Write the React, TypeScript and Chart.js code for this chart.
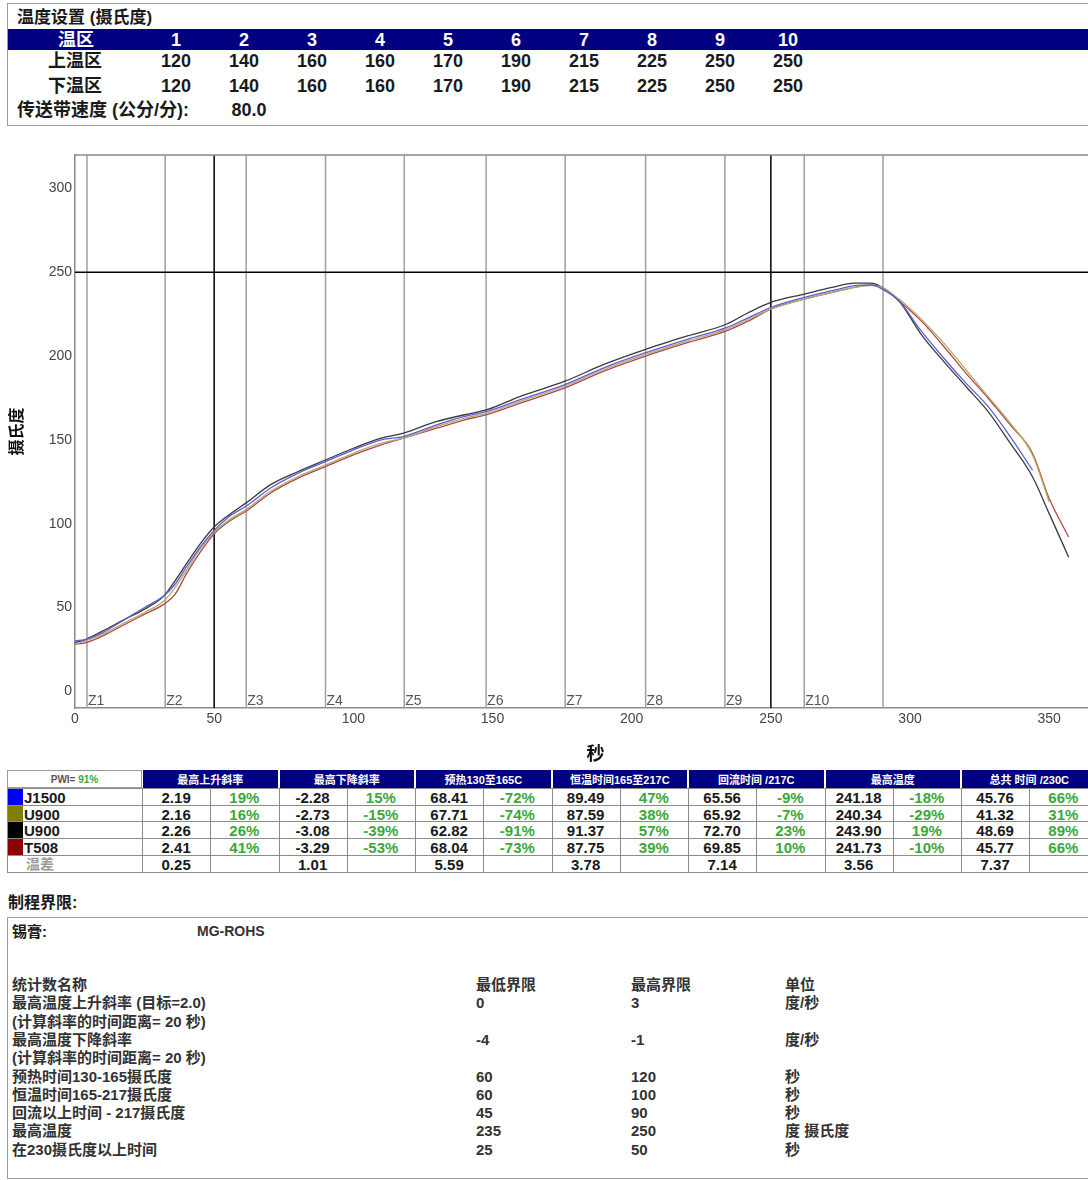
import React, { useEffect, useRef } from 'react';
import { Chart, registerables } from 'chart.js';

Chart.register(...registerables);

const FONT = "'Liberation Sans', Arial, 'Noto Sans CJK SC', sans-serif";

// ---- Zone settings ----
const zoneNumbers = ['1', '2', '3', '4', '5', '6', '7', '8', '9', '10'];
const upperZoneTemps = [120, 140, 160, 160, 170, 190, 215, 225, 250, 250];
const lowerZoneTemps = [120, 140, 160, 160, 170, 190, 215, 225, 250, 250];
const conveyorSpeed = '80.0';

// ---- Profile curves (seconds / °C) ----
const timeSec = [0, 4, 10, 18, 25, 32, 36, 40, 45, 50, 56, 62, 70, 80, 90, 100, 110, 118, 130, 140, 148, 160, 176, 190, 205, 220, 234, 242, 250, 262, 272, 280, 286, 290, 296, 304, 312, 320, 328, 336, 344, 350, 357];
const j1500Temps = [30, 31, 35, 43, 50, 57, 64, 74, 86, 96, 105, 111, 121, 130, 137, 144, 150, 152, 159, 164, 167, 174, 183, 193, 202, 210, 217, 223, 229, 235, 239, 242, 242.5, 240, 233, 215, 199, 184, 170, 152, 132];
const u900OliveTemps = [28, 30, 34, 41, 47, 54, 62, 72, 85, 95, 103, 109, 119, 128, 135, 142, 148, 151, 158, 163, 166, 173, 182, 192, 201, 209, 216, 222, 228, 234, 238, 241, 242, 241, 234, 222, 208, 192, 176, 160, 141, 113];
const u900BlackTemps = [29, 31, 36, 43, 49, 57, 66, 76, 88, 98, 106, 113, 123, 131, 138, 145, 151, 154, 161, 165, 168, 176, 185, 195, 204, 212, 219, 226, 232, 237, 241, 243.5, 243.5, 241, 233, 213, 197, 182, 167, 148, 128, 106, 80];
const t508Temps = [28, 29, 33, 40, 46, 52, 58, 70, 83, 94, 102, 108, 118, 127, 134, 141, 147, 151, 157, 162, 165, 172, 181, 191, 200, 208, 215, 221, 228, 234, 238, 241, 242.5, 241, 233, 221, 206, 190, 175, 159, 142, 115, 92];

const zoneBoundarySec = [4.3, 32.4, 61.5, 90, 118.3, 147.7, 176.1, 205, 233.5, 262, 290.3];
const zoneLabels = ['Z1', 'Z2', 'Z3', 'Z4', 'Z5', 'Z6', 'Z7', 'Z8', 'Z9', 'Z10'];
const markerSec = [50, 250];
const markerTemp = [250];
const xTickValues = [0, 50, 100, 150, 200, 250, 300, 350];
const yTickValues = [0, 50, 100, 150, 200, 250, 300];

// ---- Statistics table ----
const probeNames = ['J1500', 'U900', 'U900', 'T508'];
const probeColors = ['#0000ff', '#808000', '#000000', '#8b0000'];
const lineColors = ['#5c5cdc', '#b3ab68', '#3a3a3a', '#ad4848'];
const statHeaders = ['最高上升斜率', '最高下降斜率', '预热130至165C', '恒温时间165至217C', '回流时间 /217C', '最高温度', '总共 时间 /230C'];
const statValues = [
  ['2.19', '-2.28', '68.41', '89.49', '65.56', '241.18', '45.76'],
  ['2.16', '-2.73', '67.71', '87.59', '65.92', '240.34', '41.32'],
  ['2.26', '-3.08', '62.82', '91.37', '72.70', '243.90', '48.69'],
  ['2.41', '-3.29', '68.04', '87.75', '69.85', '241.73', '45.77'],
];
const statPercents = [
  ['19%', '15%', '-72%', '47%', '-9%', '-18%', '66%'],
  ['16%', '-15%', '-74%', '38%', '-7%', '-29%', '31%'],
  ['26%', '-39%', '-91%', '57%', '23%', '19%', '89%'],
  ['41%', '-53%', '-73%', '39%', '10%', '-10%', '66%'],
];
const statDelta = ['0.25', '1.01', '5.59', '3.78', '7.14', '3.56', '7.37'];
const pwiValue = '91%';

// ---- Process limits ----
const solderPaste = 'MG-ROHS';
const limitNames = ['最高温度上升斜率 (目标=2.0)', '(计算斜率的时间距离= 20 秒)', '最高温度下降斜率', '(计算斜率的时间距离= 20 秒)', '预热时间130-165摄氏度', '恒温时间165-217摄氏度', '回流以上时间 - 217摄氏度', '最高温度', '在230摄氏度以上时间'];
const limitLows = ['0', '', '-4', '', '60', '60', '45', '235', '25'];
const limitHighs = ['3', '', '-1', '', '120', '100', '90', '250', '50'];
const limitUnits = ['度/秒', '', '度/秒', '', '秒', '秒', '秒', '度 摄氏度', '秒'];

type TxtProps = { x: number; y: number; children: React.ReactNode; size?: number; bold?: boolean; color?: string; align?: 'left' | 'center' | 'right' };
function Txt({ x, y, children, size = 15, bold = true, color = '#1a1a1a', align = 'left' }: TxtProps) {
  const tx = align === 'center' ? '-50%' : align === 'right' ? '-100%' : '0';
  return (
    <div style={{ position: 'absolute', left: x, top: y, transform: `translate(${tx}, -50%)`, fontSize: size, fontWeight: bold ? 700 : 400, color, whiteSpace: 'nowrap', lineHeight: 1, fontFamily: FONT }}>
      {children}
    </div>
  );
}

function Box({ x, y, w, h, bg, border }: { x: number; y: number; w: number; h: number; bg?: string; border?: string }) {
  return <div style={{ position: 'absolute', left: x, top: y, width: w, height: h, background: bg, border, boxSizing: 'border-box' }} />;
}

const refLinesPlugin = {
  id: 'refLines',
  beforeDatasetsDraw(chart: any, _args: any, opts: any) {
    const { ctx, chartArea: a, scales } = chart;
    const xs = scales.x;
    const ys = scales.y;
    ctx.save();
    ctx.beginPath();
    ctx.rect(a.left, a.top - 1, a.right - a.left, a.bottom - a.top + 1);
    ctx.clip();
    ctx.strokeStyle = '#a0a0a0';
    ctx.lineWidth = 1.5;
    opts.zones.forEach((v: number) => {
      const px = xs.getPixelForValue(v);
      ctx.beginPath();
      ctx.moveTo(px, a.top);
      ctx.lineTo(px, a.bottom);
      ctx.stroke();
    });
    ctx.fillStyle = '#555';
    ctx.font = `14px ${FONT}`;
    ctx.textBaseline = 'alphabetic';
    opts.labels.forEach((lab: string, i: number) => {
      const px = xs.getPixelForValue(opts.zones[i]);
      ctx.fillText(lab, px + 1, a.bottom - 3);
    });
    ctx.strokeStyle = '#000';
    ctx.lineWidth = 1.5;
    opts.xMarks.forEach((v: number) => {
      const px = xs.getPixelForValue(v);
      ctx.beginPath();
      ctx.moveTo(px, a.top);
      ctx.lineTo(px, a.bottom);
      ctx.stroke();
    });
    opts.yMarks.forEach((v: number) => {
      const py = ys.getPixelForValue(v);
      ctx.beginPath();
      ctx.moveTo(a.left, py);
      ctx.lineTo(a.right, py);
      ctx.stroke();
    });
    ctx.strokeStyle = '#8a8a8a';
    ctx.lineWidth = 1.5;
    ctx.beginPath();
    ctx.moveTo(a.left, a.top);
    ctx.lineTo(a.right, a.top);
    ctx.stroke();
    ctx.restore();
  },
};

function ProfileChart() {
  const ref = useRef<HTMLCanvasElement | null>(null);
  useEffect(() => {
    if (!ref.current) return;
    const series = [j1500Temps, u900OliveTemps, u900BlackTemps, t508Temps];
    const chart = new Chart(ref.current, {
      type: 'line',
      data: {
        datasets: series.map((vals, i) => ({
          label: probeNames[i],
          data: vals.map((v, k) => ({ x: timeSec[k], y: v })),
          borderColor: lineColors[i],
          borderWidth: 1.3,
          pointRadius: 0,
          fill: false,
          cubicInterpolationMode: 'monotone' as const,
        })),
      },
      options: {
        animation: false,
        responsive: false,
        maintainAspectRatio: false,
        layout: { padding: { top: 5, left: 0, right: 0, bottom: 0 } },
        plugins: {
          legend: { display: false },
          tooltip: { enabled: false },
          refLines: { zones: zoneBoundarySec, labels: zoneLabels, xMarks: markerSec, yMarks: markerTemp },
        } as any,
        scales: {
          x: {
            type: 'linear',
            min: 0,
            max: 374,
            afterFit: (s: any) => { s.height = 62; s.paddingLeft = 0; s.paddingRight = 0; },
            afterBuildTicks: (s: any) => { s.ticks = xTickValues.map((v) => ({ value: v })); },
            grid: { display: false, drawTicks: false },
            border: { display: true, color: '#8a8a8a', width: 1.5 },
            ticks: { font: { family: FONT, size: 14 }, color: '#444', padding: 3, maxRotation: 0, autoSkip: false },
            title: { display: true, text: '秒', font: { family: FONT, size: 18, weight: 'bold' }, color: '#111', padding: { top: 0, bottom: 4 } },
          },
          y: {
            type: 'linear',
            min: -10,
            max: 320,
            afterFit: (s: any) => { s.width = 75; s.paddingTop = 0; s.paddingBottom = 0; },
            afterBuildTicks: (s: any) => { s.ticks = yTickValues.map((v) => ({ value: v })); },
            grid: { display: false, drawTicks: false },
            border: { display: true, color: '#8a8a8a', width: 1.5 },
            ticks: { font: { family: FONT, size: 14 }, color: '#444', padding: 3 },
            title: { display: true, text: '摄氏度', font: { family: FONT, size: 16, weight: 'bold' }, color: '#111', padding: { top: 8, bottom: 0 } },
          },
        },
      },
      plugins: [refLinesPlugin],
    } as any);
    return () => chart.destroy();
  }, []);
  return <canvas ref={ref} width={1116} height={620} style={{ position: 'absolute', left: 0, top: 150, width: 1116, height: 620 }} />;
}

export default function App() {
  useEffect(() => {
    document.body.style.margin = '0';
  }, []);

  const groupStart = 142;
  const groupW = 136.5;
  const subW = groupW / 2;
  const headTop = 770;
  const headH = 18;
  const rowH = 16.7;
  const rowTops = [0, 1, 2, 3, 4].map((i) => headTop + headH + i * rowH);
  const tableBottom = headTop + headH + 5 * rowH;
  const green = '#3aa83a';

  return (
    <div style={{ position: 'relative', width: 1088, height: 1180, overflow: 'hidden', background: '#fff', fontFamily: FONT }}>
      {/* Zone settings box */}
      <Box x={7} y={3} w={1100} h={123} border="1px solid #9a9a9a" />
      <Txt x={17} y={17} size={17}>温度设置 (摄氏度)</Txt>
      <Box x={8} y={29} w={1100} h={21} bg="#000080" />
      <Txt x={76} y={40} size={18} color="#fff" align="center">温区</Txt>
      {zoneNumbers.map((z, i) => (
        <Txt key={'zh' + i} x={176 + 68 * i} y={40} size={18} color="#fff" align="center">{z}</Txt>
      ))}
      <Txt x={75} y={61} size={18} align="center">上温区</Txt>
      {upperZoneTemps.map((v, i) => (
        <Txt key={'u' + i} x={176 + 68 * i} y={61} size={18} align="center">{v}</Txt>
      ))}
      <Txt x={75} y={86} size={18} align="center">下温区</Txt>
      {lowerZoneTemps.map((v, i) => (
        <Txt key={'l' + i} x={176 + 68 * i} y={86} size={18} align="center">{v}</Txt>
      ))}
      <Txt x={17} y={110} size={18}>传送带速度 (公分/分):</Txt>
      <Txt x={249} y={110} size={18} align="center">{conveyorSpeed}</Txt>

      {/* Chart */}
      <ProfileChart />

      {/* Statistics table */}
      <Box x={7} y={headTop} w={135} h={headH} bg="#fff" border="1px solid #9a9a9a" />
      <div style={{ position: 'absolute', left: 7, top: headTop, width: 135, height: headH, display: 'flex', alignItems: 'center', justifyContent: 'center', fontSize: 10, fontWeight: 700, fontFamily: FONT, color: '#555' }}>
        PWI=&nbsp;<span style={{ color: green }}>{pwiValue}</span>
      </div>
      {statHeaders.map((h, g) => (
        <div key={'sh' + g} style={{ position: 'absolute', left: groupStart + g * groupW + 1, top: headTop, width: groupW - 2, height: headH, background: '#000080', color: '#fff', fontSize: 11, fontWeight: 700, fontFamily: FONT, display: 'flex', alignItems: 'center', justifyContent: 'center', whiteSpace: 'nowrap' }}>
          {h}
        </div>
      ))}
      {[...rowTops, tableBottom].map((t, i) => (
        <Box key={'hl' + i} x={7} y={t} w={1100} h={1} bg="#8c8c8c" />
      ))}
      {[7, 142].concat(Array.from({ length: 14 }, (_, k) => groupStart + (k + 1) * subW)).map((lx, i) => (
        <Box key={'vl' + i} x={lx} y={rowTops[0]} w={1} h={tableBottom - rowTops[0]} bg="#8c8c8c" />
      ))}
      {probeNames.map((name, r) => (
        <React.Fragment key={'pr' + r}>
          <Box x={8} y={rowTops[r] + 1} w={15} h={rowH - 1} bg={probeColors[r]} />
          <Txt x={24} y={rowTops[r] + rowH / 2 + 0.5} size={15}>{name}</Txt>
          {statValues[r].map((v, g) => (
            <Txt key={'v' + g} x={groupStart + g * groupW + subW / 2} y={rowTops[r] + rowH / 2 + 0.5} size={15} align="center">{v}</Txt>
          ))}
          {statPercents[r].map((p, g) => (
            <Txt key={'p' + g} x={groupStart + g * groupW + subW * 1.5} y={rowTops[r] + rowH / 2 + 0.5} size={15} color={green} align="center">{p}</Txt>
          ))}
        </React.Fragment>
      ))}
      <Txt x={40} y={rowTops[4] + rowH / 2 + 0.5} size={14} color="#9a9a9a" align="center">温差</Txt>
      {statDelta.map((v, g) => (
        <Txt key={'d' + g} x={groupStart + g * groupW + subW / 2} y={rowTops[4] + rowH / 2 + 0.5} size={15} align="center">{v}</Txt>
      ))}

      {/* Process limits */}
      <Txt x={8} y={903} size={16}>制程界限:</Txt>
      <Box x={7} y={917} w={1100} h={262} border="1px solid #9a9a9a" />
      <Txt x={12} y={931} size={15}>锡膏:</Txt>
      <Txt x={197} y={931} size={14} color="#333">{solderPaste}</Txt>
      <Txt x={12} y={984} size={15} color="#333">统计数名称</Txt>
      <Txt x={476} y={984} size={15} color="#333">最低界限</Txt>
      <Txt x={631} y={984} size={15} color="#333">最高界限</Txt>
      <Txt x={785} y={984} size={15} color="#333">单位</Txt>
      {limitNames.map((n, i) => {
        const y = 1002.3 + i * 18.3;
        return (
          <React.Fragment key={'lim' + i}>
            <Txt x={12} y={y} size={15} color="#333">{n}</Txt>
            <Txt x={476} y={y} size={15} color="#333">{limitLows[i]}</Txt>
            <Txt x={631} y={y} size={15} color="#333">{limitHighs[i]}</Txt>
            <Txt x={785} y={y} size={15} color="#333">{limitUnits[i]}</Txt>
          </React.Fragment>
        );
      })}
    </div>
  );
}
